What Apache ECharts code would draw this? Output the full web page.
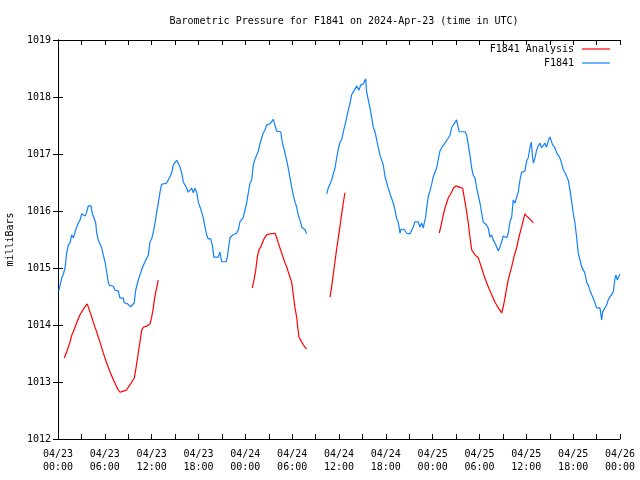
<!DOCTYPE html>
<html>
<head>
<meta charset="utf-8">
<script src="https://cdn.jsdelivr.net/npm/echarts@6/dist/echarts.min.js"></script>
<style>html,body{margin:0;padding:0;background:#fff}#c{width:640px;height:480px}</style>
</head>
<body>
<div id="c"></div>
<script>
// Hours since 2024-04-23 00:00 UTC; null marks a data gap
const blueHours = [0.1,0.26,0.47,0.68,0.90,1.11,1.32,1.54,1.76,1.96,2.18,2.40,2.60,2.82,3.04,3.24,3.46,3.68,3.88,4.10,4.23,4.39,4.65,4.83,4.96,5.16,5.38,5.60,5.80,6.02,6.24,6.44,6.57,7.08,7.30,7.72,7.94,8.16,8.37,8.49,8.93,9.10,9.31,9.52,9.77,9.95,10.21,10.50,10.80,11.14,11.36,11.57,11.79,12.00,12.21,12.43,12.64,12.85,13.07,13.28,13.92,14.35,14.56,14.77,14.99,15.21,15.41,15.63,15.85,16.05,16.27,16.49,16.69,16.91,17.13,17.33,17.55,17.77,17.97,18.19,18.41,18.61,18.83,19.05,19.25,19.56,19.77,19.98,20.53,20.75,20.97,21.52,21.69,21.82,22.03,22.38,22.89,23.10,23.31,23.74,23.95,24.17,24.38,24.60,24.81,25.02,25.24,25.45,25.66,25.88,26.09,26.30,26.52,26.73,27.16,27.38,27.58,27.71,28.02,28.53,28.73,29.08,29.30,29.50,29.72,29.94,30.14,30.36,30.58,30.78,31.00,31.22,31.42,31.64,31.86,
 33.0,
 34.42,34.62,34.84,35.06,35.27,35.48,35.70,35.91,36.13,36.34,36.55,36.76,36.98,37.19,37.41,37.62,37.83,38.05,38.27,38.39,38.56,38.78,39.11,39.24,39.42,39.54,39.75,39.97,40.18,40.39,40.61,40.83,41.03,41.25,41.47,41.67,41.89,42.11,42.31,42.53,42.75,42.95,43.17,43.39,43.59,43.81,43.94,44.11,44.36,44.67,45.09,45.31,45.51,45.73,46.15,46.37,46.59,46.80,46.92,47.10,47.23,47.43,47.65,47.87,48.08,48.29,48.51,48.72,48.93,49.15,49.36,49.57,49.79,50.00,50.22,50.43,50.64,50.86,51.07,51.20,51.41,52.14,52.36,52.56,52.78,53.00,53.20,53.42,53.64,53.84,54.06,54.28,54.48,54.70,54.92,55.12,55.34,55.56,55.76,55.98,56.20,56.40,56.62,56.84,57.04,57.26,57.48,57.68,57.90,58.12,58.32,58.54,58.76,58.96,59.18,59.40,59.82,60.04,60.24,60.46,60.63,60.81,60.91,61.10,61.32,61.52,61.74,61.96,62.17,62.38,62.60,62.81,63.02,63.24,63.37,63.66,63.88,64.08,64.30,64.52,64.73,64.94,65.16,65.37,65.59,65.81,66.01,66.23,66.45,66.65,66.87,67.09,67.29,67.51,67.73,67.93,68.15,68.37,68.57,68.79,69.01,69.43,69.65,69.78,70.07,70.29,70.49,70.71,70.93,71.14,71.36,71.48,71.65,71.83,72.00];
const bluePressure = [1014.60,1014.58,1014.82,1014.89,1015.00,1015.26,1015.40,1015.44,1015.58,1015.53,1015.63,1015.72,1015.79,1015.84,1015.95,1015.98,1015.91,1015.98,1016.09,1016.11,1016.09,1015.96,1015.86,1015.79,1015.61,1015.49,1015.47,1015.35,1015.23,1015.11,1014.93,1014.75,1014.70,1014.68,1014.61,1014.60,1014.47,1014.44,1014.47,1014.39,1014.37,1014.35,1014.32,1014.35,1014.39,1014.61,1014.75,1014.88,1015.00,1015.11,1015.14,1015.23,1015.46,1015.51,1015.63,1015.79,1015.98,1016.14,1016.33,1016.47,1016.49,1016.60,1016.67,1016.81,1016.82,1016.89,1016.86,1016.77,1016.67,1016.51,1016.49,1016.40,1016.33,1016.32,1016.40,1016.32,1016.40,1016.33,1016.16,1016.07,1015.98,1015.88,1015.72,1015.58,1015.51,1015.51,1015.40,1015.19,1015.19,1015.28,1015.11,1015.11,1015.18,1015.32,1015.53,1015.58,1015.61,1015.67,1015.81,1015.89,1016.02,1016.14,1016.32,1016.49,1016.54,1016.81,1016.91,1016.93,1017.05,1017.18,1017.28,1017.37,1017.42,1017.51,1017.53,1017.56,1017.61,1017.54,1017.40,1017.39,1017.21,1017.02,1016.89,1016.75,1016.58,1016.42,1016.28,1016.16,1016.07,1015.93,1015.84,1015.72,1015.70,1015.67,1015.60,
 null,
 1016.30,1016.40,1016.42,1016.54,1016.65,1016.75,1016.93,1017.09,1017.21,1017.25,1017.39,1017.42,1017.63,1017.77,1017.89,1018.04,1018.09,1018.11,1018.19,1018.16,1018.12,1018.21,1018.23,1018.26,1018.32,1018.09,1017.95,1017.81,1017.65,1017.47,1017.39,1017.25,1017.11,1016.98,1016.96,1016.81,1016.61,1016.58,1016.40,1016.30,1016.28,1016.14,1016.02,1015.86,1015.81,1015.61,1015.68,1015.70,1015.68,1015.61,1015.60,1015.63,1015.72,1015.81,1015.81,1015.72,1015.79,1015.70,1015.79,1015.89,1016.05,1016.25,1016.35,1016.47,1016.60,1016.68,1016.75,1016.91,1017.05,1017.11,1017.12,1017.19,1017.21,1017.28,1017.33,1017.46,1017.51,1017.54,1017.60,1017.51,1017.39,1017.39,1017.33,1017.16,1016.98,1016.75,1016.63,1016.58,1016.40,1016.28,1016.14,1015.96,1015.81,1015.79,1015.75,1015.70,1015.54,1015.58,1015.49,1015.44,1015.37,1015.30,1015.37,1015.46,1015.56,1015.58,1015.53,1015.61,1015.81,1015.89,1016.19,1016.14,1016.12,1016.33,1016.54,1016.68,1016.70,1016.88,1016.93,1017.11,1017.21,1016.93,1016.84,1016.93,1017.07,1017.14,1017.19,1017.11,1017.11,1017.19,1017.12,1017.23,1017.30,1017.30,1017.16,1017.11,1017.02,1016.98,1016.93,1016.84,1016.72,1016.68,1016.67,1016.54,1016.37,1016.16,1015.96,1015.79,1015.53,1015.26,1015.14,1015.02,1015.00,1014.91,1014.75,1014.70,1014.61,1014.53,1014.47,1014.44,1014.30,1014.30,1014.09,1014.23,1014.30,1014.35,1014.44,1014.49,1014.49,1014.58,1014.82,1014.88,1014.79,1014.84,1014.89];

const redHours = [0.81,1.11,1.32,1.54,1.76,1.96,2.18,2.40,2.60,2.82,3.04,3.46,3.75,4.10,4.32,4.52,4.74,4.96,5.16,5.38,5.60,5.80,6.02,6.24,6.44,6.66,6.88,7.08,7.30,7.52,7.72,7.94,8.37,8.80,9.01,9.22,9.44,9.77,9.95,10.21,10.38,10.50,10.72,10.93,11.36,11.79,12.00,12.21,12.34,12.52,12.72,12.85,
 18.0,
 24.89,25.11,25.33,25.53,25.75,25.97,26.17,26.39,26.73,27.16,27.80,28.02,28.22,28.44,28.66,28.86,29.08,29.30,29.50,29.72,29.94,30.07,30.23,30.36,30.58,30.71,30.87,31.22,31.64,31.86,
 33.0,
 34.84,35.06,35.27,35.48,35.70,35.91,36.13,36.34,36.55,36.76,
 42.0,
 48.85,49.15,49.36,49.57,49.79,50.00,50.22,50.43,50.64,50.98,51.41,51.84,52.14,52.36,52.56,52.78,53.00,53.42,53.84,54.06,54.28,54.48,54.70,54.92,55.12,55.34,55.56,55.76,55.98,56.20,56.40,56.62,56.84,57.04,57.26,57.48,57.68,57.90,58.12,58.32,58.54,58.76,58.96,59.18,59.40,59.61,59.82,60.04,60.46,60.89];
const redPressure = [1013.42,1013.53,1013.61,1013.70,1013.82,1013.88,1013.96,1014.04,1014.11,1014.18,1014.23,1014.32,1014.37,1014.23,1014.14,1014.05,1013.96,1013.88,1013.79,1013.70,1013.60,1013.51,1013.42,1013.33,1013.26,1013.18,1013.11,1013.04,1012.98,1012.91,1012.86,1012.82,1012.84,1012.86,1012.91,1012.95,1012.98,1013.07,1013.21,1013.44,1013.60,1013.70,1013.91,1013.96,1013.98,1014.02,1014.14,1014.30,1014.44,1014.58,1014.70,1014.79,
 null,
 1014.65,1014.79,1014.96,1015.19,1015.32,1015.37,1015.44,1015.51,1015.58,1015.60,1015.61,1015.53,1015.44,1015.35,1015.26,1015.18,1015.09,1015.02,1014.93,1014.84,1014.75,1014.61,1014.44,1014.30,1014.14,1013.96,1013.79,1013.70,1013.61,1013.58,
 null,
 1014.49,1014.67,1014.89,1015.11,1015.33,1015.53,1015.74,1015.95,1016.14,1016.32,
 null,
 1015.61,1015.79,1015.93,1016.05,1016.14,1016.23,1016.28,1016.33,1016.40,1016.44,1016.42,1016.40,1016.16,1015.98,1015.79,1015.54,1015.32,1015.23,1015.18,1015.09,1015.00,1014.91,1014.82,1014.74,1014.67,1014.60,1014.53,1014.47,1014.40,1014.35,1014.30,1014.26,1014.21,1014.32,1014.47,1014.65,1014.79,1014.91,1015.02,1015.14,1015.26,1015.35,1015.49,1015.61,1015.72,1015.84,1015.95,1015.91,1015.86,1015.79];

const xTickHours = [0,6,12,18,24,30,36,42,48,54,60,66,72];
const xTickLabels = ['04/23\n00:00','04/23\n06:00','04/23\n12:00','04/23\n18:00','04/24\n00:00','04/24\n06:00','04/24\n12:00','04/24\n18:00','04/25\n00:00','04/25\n06:00','04/25\n12:00','04/25\n18:00','04/26\n00:00'];

const FONT = 'DejaVu Sans Mono';
const FS = 10;
const pair = (hs, vs) => hs.map((h, i) => [h, vs[i] === null ? '-' : vs[i]]);

const chart = echarts.init(document.getElementById('c'), null, {renderer: 'canvas'});
const baseX = {
  type: 'value', min: 0, max: 72, interval: 3,
  axisLine: {show: true, lineStyle: {color: '#000', width: 1}},
  axisTick: {show: true, inside: true, length: 5, lineStyle: {color: '#000'}},
  splitLine: {show: false}
};
const baseY = {
  type: 'value', min: 1012, max: 1019, interval: 1,
  axisLine: {show: true, lineStyle: {color: '#000', width: 1}},
  axisTick: {show: true, inside: true, length: 5, lineStyle: {color: '#000'}},
  splitLine: {show: false}
};
chart.setOption({
  animation: false,
  backgroundColor: '#fff',
  title: {
    text: 'Barometric Pressure for F1841 on 2024-Apr-23 (time in UTC)',
    left: 339, textAlign: 'center', top: 11,
    textStyle: {fontFamily: FONT, fontSize: FS, fontWeight: 'normal', color: '#000'}
  },
  legend: {
    orient: 'vertical', right: 25, top: 38, align: 'right',
    icon: 'rect', itemWidth: 28, itemHeight: 1.2, itemGap: 2,
    data: ['F1841 Analysis', 'F1841'],
    textStyle: {fontFamily: FONT, fontSize: FS, color: '#000', lineHeight: 12, padding: [0, 3, 0, 0]}
  },
  grid: {left: 58, right: 20, top: 40, bottom: 41, containLabel: false, outerBoundsMode: 'none'},
  xAxis: [
    Object.assign({}, baseX, {
      position: 'bottom',
      axisLabel: {
        show: true, margin: 9, color: '#000', fontFamily: FONT, fontSize: FS, lineHeight: 13,
        showMinLabel: true, showMaxLabel: true, hideOverlap: false,
        formatter: v => { const i = xTickHours.indexOf(v); return i >= 0 ? xTickLabels[i] : ''; }
      }
    }),
    Object.assign({}, baseX, {position: 'top', axisLabel: {show: false}})
  ],
  yAxis: [
    Object.assign({}, baseY, {
      position: 'left',
      name: 'milliBars', nameLocation: 'middle', nameGap: 43, nameRotate: 90,
      nameTextStyle: {fontFamily: FONT, fontSize: FS, color: '#000'},
      axisLabel: {show: true, margin: 7, color: '#000', fontFamily: FONT, fontSize: FS,
        formatter: v => String(v)}
    }),
    Object.assign({}, baseY, {position: 'right', axisLabel: {show: false}})
  ],
  series: [
    {
      name: 'F1841 Analysis', type: 'line', xAxisIndex: 0, yAxisIndex: 0,
      data: pair(redHours, redPressure), showSymbol: false, symbol: 'none', connectNulls: false,
      lineStyle: {color: '#ff0000', width: 1.2}, itemStyle: {color: '#ff0000'}
    },
    {
      name: 'F1841', type: 'line', xAxisIndex: 0, yAxisIndex: 0,
      data: pair(blueHours, bluePressure), showSymbol: false, symbol: 'none', connectNulls: false,
      lineStyle: {color: '#1080ff', width: 1.2}, itemStyle: {color: '#1080ff'}
    }
  ]
});
</script>
</body>
</html>
